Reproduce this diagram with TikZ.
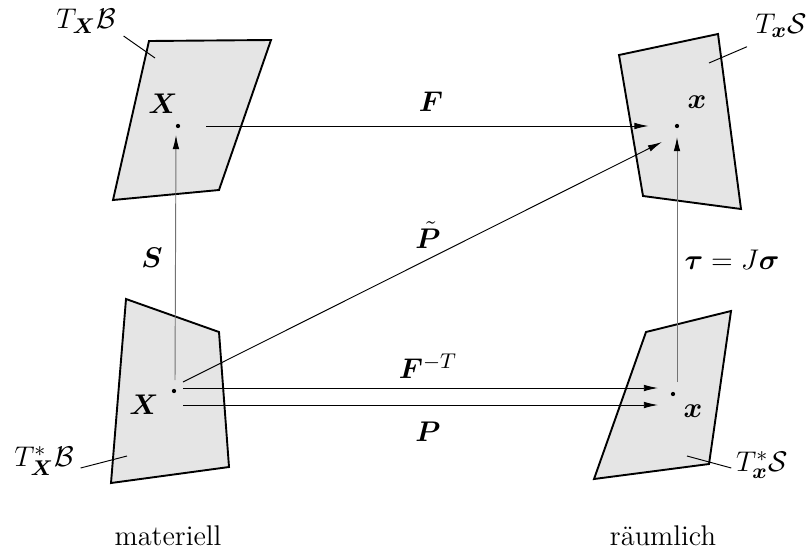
\documentclass[tikz,border=0pt]{standalone}
\usepackage{amsmath}
\usepackage{bm}
\usetikzlibrary{positioning,calc,arrows.meta}

\begin{document}
\begin{tikzpicture}[x=0.01482cm, y=-0.01482cm,
    plane/.style={draw, line width=0.8pt, fill=black!10},
    pt/.style={circle, fill, inner sep=0pt, minimum size=1.8pt},
    map/.style={-{Latex[length=6pt,width=2.8pt]}, line width=0.4pt},
    grmap/.style={-{Latex[length=6pt,width=2.8pt,color=black]}, line width=0.4pt, draw=black!55},
    lead/.style={line width=0.4pt},
    lbl/.style={inner sep=1pt, font=\fontsize{13}{16}\selectfont},
    txt/.style={inner sep=1pt, font=\fontsize{12}{14}\selectfont}
]
    \useasboundingbox (0,0) rectangle (811,554);

    % tangent planes
    \draw[plane] (149,41) -- (271,40) -- (219,190) -- (113,200) -- cycle;
    \draw[plane] (619,55) -- (718,34) -- (741,209) -- (643,196) -- cycle;
    \draw[plane] (126,299) -- (219,332) -- (229,467) -- (111,483) -- cycle;
    \draw[plane] (646,332) -- (731,311) -- (709,464) -- (594,479) -- cycle;

    % points
    \node[pt] (Xtop) at (178,126) {};
    \node[pt] (xtop) at (677,126) {};
    \node[pt] (Xbot) at (174,391) {};
    \node[pt] (xbot) at (673,394) {};

    \node[lbl] (Xtopl) at (163,104) {$\bm{X}$};
    \node[lbl] (xtopl) at (697,102) {$\bm{x}$};
    \node[lbl] (Xbotl) at (144,405) {$\bm{X}$};
    \node[lbl] (xbotl) at (693,411) {$\bm{x}$};

    % plane names
    \node[lbl] (tb) at (86,21) {$T_{\bm{X}}\mathcal{B}$};
    \node[lbl] (ts) at (781,26) {$T_{\bm{x}}\mathcal{S}$};
    \node[lbl] (tbs) at (44,461) {$T^*_{\bm{X}}\mathcal{B}$};
    \node[lbl] (tss) at (762,465) {$T^*_{\bm{x}}\mathcal{S}$};
    \coordinate (tbp) at (155,58);
    \coordinate (tsp) at (709,63);
    \coordinate (tbsp) at (127,456);
    \coordinate (tssp) at (687,456);
    \draw[lead] ([shift={(5,15)}]tb.east) -- (tbp);
    \draw[lead] ([shift={(-34,6)}]ts.south) -- (tsp);
    \draw[lead] ([shift={(4,7)}]tbs.east) -- (tbsp);
    \draw[lead] ([shift={(-2,3)}]tss.west) -- (tssp);

    % maps
    \draw[map] ([xshift=12]Xtop.center) -- ([xshift=-12]xtop.center);
    \draw[map] ([shift={(9,-9)}]Xbot.center) -- ([shift={(-15,16)}]xtop.center);
    \draw[map] ([shift={(9,-3)}]Xbot.center) -- ([shift={(-15,-6)}]xbot.center);
    \draw[map] ([shift={(9,14)}]Xbot.center) -- ([shift={(-15,11)}]xbot.center);
    \draw[grmap] ([shift={(1,-11)}]Xbot.center) -- ([shift={(-2,9)}]Xtop.center);
    \draw[grmap] ([shift={(4,-12)}]xbot.center) -- ([shift={(0,11)}]xtop.center);

    \node[lbl] (Fl) at (431,102) {$\bm{F}$};
    \node[lbl] (Ptl) at (428,235) {$\tilde{\bm{P}}$};
    \node[lbl] (FTl) at (428,366) {$\bm{F}^{-T}$};
    \node[lbl] (Pl) at (428,432) {$\bm{P}$};
    \node[lbl] (Sl) at (152,258) {$\bm{S}$};
    \node[lbl] (taul) at (732,260) {$\bm{\tau}=J\bm{\sigma}$};

    \node[txt] (mat) at (168,536) {materiell};
    \node[txt] (rau) at (663,536) {räumlich};
\end{tikzpicture}
\end{document}
